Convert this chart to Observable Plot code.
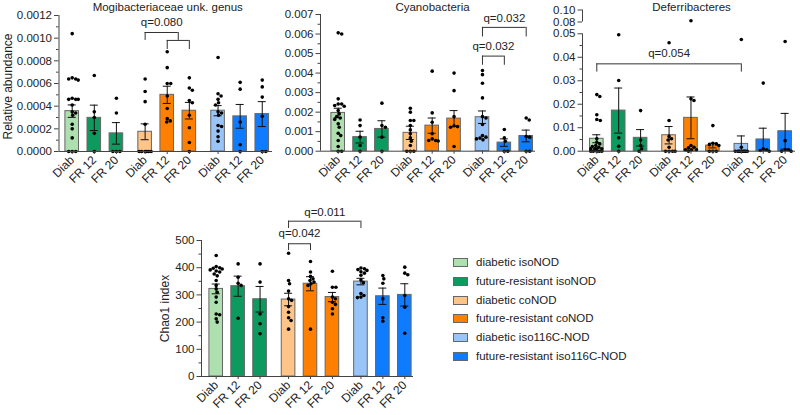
<!DOCTYPE html>
<html><head><meta charset="utf-8">
<script src="https://cdn.jsdelivr.net/npm/d3@7"></script>
<script src="https://cdn.jsdelivr.net/npm/@observablehq/plot@0.6"></script>
<style>
body{margin:0;background:#fff;}
#wrap{position:relative;width:800px;height:415px;overflow:hidden;font-family:"Liberation Sans",Arial,sans-serif;background:#fff;}
#wrap > svg{position:absolute;left:0;top:0;}
.legend{position:absolute;left:453px;top:253px;font-size:11.5px;color:#222;}
.legend .row{position:absolute;left:0;height:18px;white-space:nowrap;}
.legend .sw{position:absolute;left:0;top:5px;width:13px;height:7px;border:1px solid #666;}
.legend .tx{position:absolute;left:23px;top:2px;line-height:14px;}
</style></head><body><div id="wrap"></div>
<script>
// ---- shared categories ----
const groups = ["diabetic isoNOD","future-resistant isoNOD","diabetic coNOD","future-resistant coNOD","diabetic iso116C-NOD","future-resistant iso116C-NOD"];
const colors = ["#aedfae","#0e9a5e","#ffc588","#ff8000","#99c4f7","#0f7cff"];
const barLabels = ["Diab","FR 12","FR 20","Diab","FR 12","FR 20","Diab","FR 12","FR 20"];
const barGroup = [0,1,1,2,3,3,4,5,5];
const barPos = [0,1,2,3.3,4.3,5.3,6.6,7.6,8.6];

// ---- Mogibacteriaceae unk. genus ----
const mogiMean = [0.000356,0.000297,0.00016,0.000174,0.0005,0.00036,0.00036,0.00031,0.00033];
const mogiSem  = [0.000055,0.000112,0.000095,0.00007,0.000076,0.000073,0.000045,0.000105,0.00011];
const mogiDots = [
  [0.00104,0.00065,0.00064,0.00064,0.00063,0.00047,0.00046,0.00046,0.00046,0.00041,0.00035,0.00034,0.00032,0.00024,0.0002,0.00012,0,0,0],
  [0.00067,0.00035,0.0003,0.00016,0],
  [0.00047,0.00034,0,0,0],
  [0.00064,0.00053,0.00044,0.00024,0,0,0,0,0,0],
  [0.00088,0.00074,0.0006,0.0006,0.00049,0.00038,0.00029,0.00027,0.00026],
  [0.00065,0.00056,0.00054,0.00045,0.00043,0.00032,0.00021,0.00008,0],
  [0.00083,0.00051,0.00049,0.00046,0.00043,0.00041,0.00035,0.00034,0.00032,0.00023,0.00022,0.00018,0.00013,0.00009],
  [0.00061,0.00055,0.00026,0.00006,0],
  [0.00063,0.00057,0.00048,0.00031,0,0]
];
const mogiTicks = [0,0.0002,0.0004,0.0006,0.0008,0.0010,0.0012];
const mogiMinor = [0.0001,0.0003,0.0005,0.0007,0.0009,0.0011];
const mogiBrackets = [
  {x1:3.3, x2:4.8, y:0.00105, leg:0.00098, ly:0.001138, label:"q=0.080"},
  {x1:4.3, x2:5.3, y:0.00098, leg:0.0009, ly:null, label:""}
];

// ---- Cyanobacteria ----
const cyanoMean = [0.00196,0.00072,0.00114,0.00094,0.00131,0.00167,0.00174,0.00044,0.00078];
const cyanoSem  = [0.00024,0.0003,0.00042,0.00034,0.00039,0.00041,0.00032,0.00019,0.0003];
const cyanoDots = [
  [0.00606,0.006,0.00268,0.00242,0.00242,0.00234,0.0023,0.00208,0.00191,0.00177,0.0017,0.00162,0.0014,0.00123,0.00092,0.0008,0.00055,0.00024,0,0],
  [0.0016,0.00131,0.00072,0.00029,0],
  [0.00246,0.00131,0.00123,0.00072,0],
  [0.0022,0.002,0.00157,0.00157,0.00131,0.00109,0.00089,0.00068,0.00051,0.00029,0,0,0],
  [0.0041,0.00196,0.00148,0.00089,0.00063,0.00055,0.00055,0.00052],
  [0.004,0.0031,0.00177,0.0013,0.00126,0.00123,0.00024],
  [0.00413,0.00392,0.00348,0.00273,0.00177,0.0017,0.00137,0.0008,0.00072,0.00067,0.00063,0.00058],
  [0.00111,0.00068,0.00051,0,0],
  [0.0017,0.0016,0.00075,0.00072,0,0]
];
const cyanoTicks = [0,0.001,0.002,0.003,0.004,0.005,0.006,0.007];
const cyanoMinor = [0.0005,0.0015,0.0025,0.0035,0.0045,0.0055,0.0065];
const cyanoBrackets = [
  {x1:6.6, x2:7.6, y:0.00487, leg:0.0044, ly:0.00537, label:"q=0.032"},
  {x1:6.6, x2:8.6, y:0.00634, leg:0.00585, ly:0.0068, label:"q=0.032"}
];

// ---- Deferribacteres (broken axis 0.05 -> 0.08) ----
const defMean = [0.0053,0.0173,0.0057,0.0068,0.0142,0.0024,0.0031,0.005,0.0085];
const defSem  = [0.0017,0.0096,0.0035,0.0037,0.0089,0.001,0.0034,0.0048,0.0076];
const defDots = [
  [0.0241,0.0233,0.0155,0.0135,0.0131,0.0053,0.0038,0.0031,0.0024,0.002,0.0017,0.001,0.001,0.001,0.001,0,0,0,0,0],
  [0.0496,0.0301,0.0057,0.0021,0],
  [0.0173,0.0048,0.0024,0.001,0],
  [0.0462,0.0131,0.0063,0.0053,0.0048,0.0017,0,0,0,0],
  [0.082,0.0223,0.0216,0.0024,0.0017,0.0014,0.0006,0.0006,0.0006,0],
  [0.0109,0.0034,0.0031,0.0028,0.0024,0,0,0],
  [0.0476,0.0017,0,0,0,0,0,0,0,0,0,0],
  [0.029,0.001,0.0006,0.0003,0],
  [0.0467,0.0045,0.0006,0.0006,0,0]
];
const defTicks = [0,0.01,0.02,0.03,0.04,0.05,0.08,0.10];
const defMinor = [0.005,0.015,0.025,0.035,0.045];
const defBrackets = [
  {x1:0, x2:6.6, y:0.0372, leg:0.0337, ly:0.0415, label:"q=0.054"}
];

// ---- Chao1 index ----
const chaoMean = [322,332,284,283,341,292,349,295,300];
const chaoSem  = [18,37,47,23,26,17,12,30,41];
const chaoDots = [
  [445,404,400,398,395,392,388,384,377,370,353,335,322,310,292,273,230,227,212,200],
  [414,365,343,335,214],
  [414,347,230,194,157],
  [453,353,341,314,286,280,257,236,216,206,174],
  [423,384,368,359,353,347,341,335,174],
  [387,328,328,292,286,273,265,249,230],
  [399,396,393,390,385,380,372,355,345,305,298,292,290],
  [371,359,343,286,216,203],
  [402,380,374,298,255,159]
];
const chaoTicks = [0,100,200,300,400,500];
const chaoMinor = [50,150,250,350,450];
const chaoBrackets = [
  {x1:3.3, x2:4.3, y:488, leg:463, ly:526, label:"q=0.042"},
  {x1:3.3, x2:6.6, y:571, leg:544, ly:604, label:"q=0.011"}
];

const labelMap = new Map(barPos.map((p,i)=>[p, barLabels[i]]));
const FONT = '"Liberation Sans", Arial, sans-serif';

// deterministic beeswarm offsets (pixels) so overlapping dots sit side by side
function spread(pys, unit){
  const D = 3.4, maxOff = 6;
  const cands = [];
  for (let c = 0; c <= maxOff + 1e-9; c += 0.5) { cands.push(c); if (c) cands.push(-c); }
  const placed = [];
  return pys.map(py => {
    let best = null, bestDist = -1;
    for (const c of cands) {
      let md = Infinity;
      for (const p of placed) md = Math.min(md, Math.hypot(p.x - c, p.y - py));
      if (md >= D) { best = c; bestDist = md; break; }
      if (md > bestDist + 0.3) { bestDist = md; best = c; }
    }
    placed.push({x: best, y: py});
    return best / unit;
  });
}

function panel(cfg){
  const {title, titleDx=0, ylabel, ylabelX, ylabelDy=0, mean, sem, dots, brackets, ticks, minor, fmt,
         yDomain, yRange, axisX, endX, firstBar, unit, segments} = cfg;
  const xDomain = [(axisX-firstBar)/unit, (endX-firstBar)/unit];
  const px = d3.scaleLinear().domain(yDomain).range(yRange);   // value -> pixel (piecewise for broken axis)
  const base = yRange[0], top = Math.min(...yRange);
  const u = v => base - px(v);                                    // value -> height above baseline
  const hw = 6.8/unit, cap = 4/unit;
  const bars = mean.map((m,i)=>({pos:barPos[i], m, s:sem[i], g:groups[barGroup[i]]}));
  const dotData = [];
  dots.forEach((arr,i)=>{
    const sorted = arr.slice().sort((a,b)=>b-a);
    const offs = spread(sorted.map(v=>px(v)), unit);
    sorted.forEach((v,j)=>dotData.push({x:barPos[i]+offs[j], v}));
  });
  const legs = [];
  brackets.forEach(b=>{ legs.push({x:b.x1,y1:b.leg,y2:b.y}); legs.push({x:b.x2,y1:b.leg,y2:b.y}); });
  const blabels = brackets.filter(b=>b.label);
  const tickLabel = new Map(ticks.map(t=>[u(t), fmt(t)]));
  const marks = [
    Plot.rect(bars, {x1:d=>d.pos-hw, x2:d=>d.pos+hw, y1:0, y2:d=>u(d.m), fill:"g", stroke:"#666", strokeWidth:1}),
    Plot.ruleX(bars, {x:"pos", y1:d=>u(Math.max(0,d.m-d.s)), y2:d=>u(d.m+d.s), stroke:"#111", strokeWidth:1}),
    Plot.ruleY(bars, {x1:d=>d.pos-cap, x2:d=>d.pos+cap, y:d=>u(d.m+d.s), stroke:"#111", strokeWidth:1}),
    Plot.ruleY(bars.filter(d=>d.m-d.s>0), {x1:d=>d.pos-cap, x2:d=>d.pos+cap, y:d=>u(d.m-d.s), stroke:"#111", strokeWidth:1}),
    Plot.dot(dotData, {x:"x", y:d=>u(d.v), r:1.8, fill:"#000", stroke:null}),
    Plot.ruleX(segments, {x:xDomain[0], y1:d=>u(d[0]), y2:d=>u(d[1]), stroke:"#444", strokeWidth:1}),
    Plot.ruleY([0], {stroke:"#444", strokeWidth:1}),
    Plot.axisY({ticks:ticks.map(u), tickFormat:t=>tickLabel.get(t), tickSize:4.5, tickPadding:2.5, stroke:"#444", fontSize:11.5, label:null}),
    Plot.axisY({ticks:minor.map(u), tickFormat:()=>"", tickSize:2.5, stroke:"#444", label:null}),
    Plot.axisX({ticks:barPos, tickFormat:p=>labelMap.get(p), tickRotate:-45, tickSize:3, tickPadding:3.5, stroke:"#444", fontSize:12, label:null}),
    Plot.ruleY(brackets, {x1:"x1", x2:"x2", y:d=>u(d.y), stroke:"#333", strokeWidth:1}),
    Plot.ruleX(legs, {x:"x", y1:d=>u(d.y1), y2:d=>u(d.y2), stroke:"#333", strokeWidth:1}),
    Plot.text(blabels, {x:d=>(d.x1+d.x2)/2, y:d=>u(d.ly), text:"label", fontSize:11.5, fill:"#222", lineAnchor:"middle"})
  ];
  if (ylabel) marks.push(Plot.text([ylabel], {text:d=>d, frameAnchor:"left", textAnchor:"middle", lineAnchor:"middle", rotate:-90, dx:-(axisX-ylabelX), dy:ylabelDy, fontSize:12, fill:"#222"}));
  if (title) marks.push(Plot.text([title], {text:d=>d, frameAnchor:"top", lineAnchor:"middle", dx:titleDx, dy:-(top-7), fontSize:11.5, fill:"#222"}));
  return Plot.plot({
    width:800, height:415,
    marginLeft:axisX, marginRight:800-endX, marginTop:top, marginBottom:415-base,
    x:{domain:xDomain, range:[axisX,endX]},
    y:{domain:[0, base-top], range:[base, top]},
    color:{domain:groups, range:colors},
    style:{background:"transparent", overflow:"visible", fontFamily:FONT, fontSize:"11.5px", color:"#222"},
    marks
  });
}

const wrap = document.getElementById("wrap");
wrap.appendChild(panel({title:"Mogibacteriaceae unk. genus", titleDx:2, ylabel:"Relative abundance", ylabelX:7.5, ylabelDy:3,
  mean:mogiMean, sem:mogiSem, dots:mogiDots, brackets:mogiBrackets, ticks:mogiTicks, minor:mogiMinor, fmt:d3.format(".4f"),
  yDomain:[0,0.0012], yRange:[151,15], axisX:58.5, endX:272, firstBar:71.7, unit:22.1, segments:[[0,0.0012]]}));
wrap.appendChild(panel({title:"Cyanobacteria", titleDx:4.5, ylabel:"", ylabelX:0,
  mean:cyanoMean, sem:cyanoSem, dots:cyanoDots, brackets:cyanoBrackets, ticks:cyanoTicks, minor:cyanoMinor, fmt:d3.format(".3f"),
  yDomain:[0,0.007], yRange:[150.7,14], axisX:320, endX:535, firstBar:337.7, unit:21.86, segments:[[0,0.007]]}));
wrap.appendChild(panel({title:"Deferribacteres", titleDx:2.5, ylabel:"", ylabelX:0,
  mean:defMean, sem:defSem, dots:defDots, brackets:defBrackets, ticks:defTicks, minor:defMinor, fmt:d3.format(".2f"),
  yDomain:[0,0.05,0.08,0.10], yRange:[150.7,33.3,21.5,9.5], axisX:582, endX:795, firstBar:596.3, unit:21.9, segments:[[0,0.05],[0.08,0.10]]}));
wrap.appendChild(panel({title:"", ylabel:"Chao1 index", ylabelX:165,
  mean:chaoMean, sem:chaoSem, dots:chaoDots, brackets:chaoBrackets, ticks:chaoTicks, minor:chaoMinor, fmt:d3.format("d"),
  yDomain:[0,500], yRange:[376,240], axisX:201, endX:413, firstBar:215.7, unit:21.93, segments:[[0,500]]}));

// legend
const leg = document.createElement("div");
leg.className = "legend";
groups.forEach((g,i)=>{
  const row = document.createElement("div");
  row.className = "row";
  row.style.top = (i*18.8) + "px";
  row.innerHTML = `<span class="sw" style="background:${colors[i]}"></span><span class="tx">${g}</span>`;
  leg.appendChild(row);
});
wrap.appendChild(leg);
</script></body></html>
